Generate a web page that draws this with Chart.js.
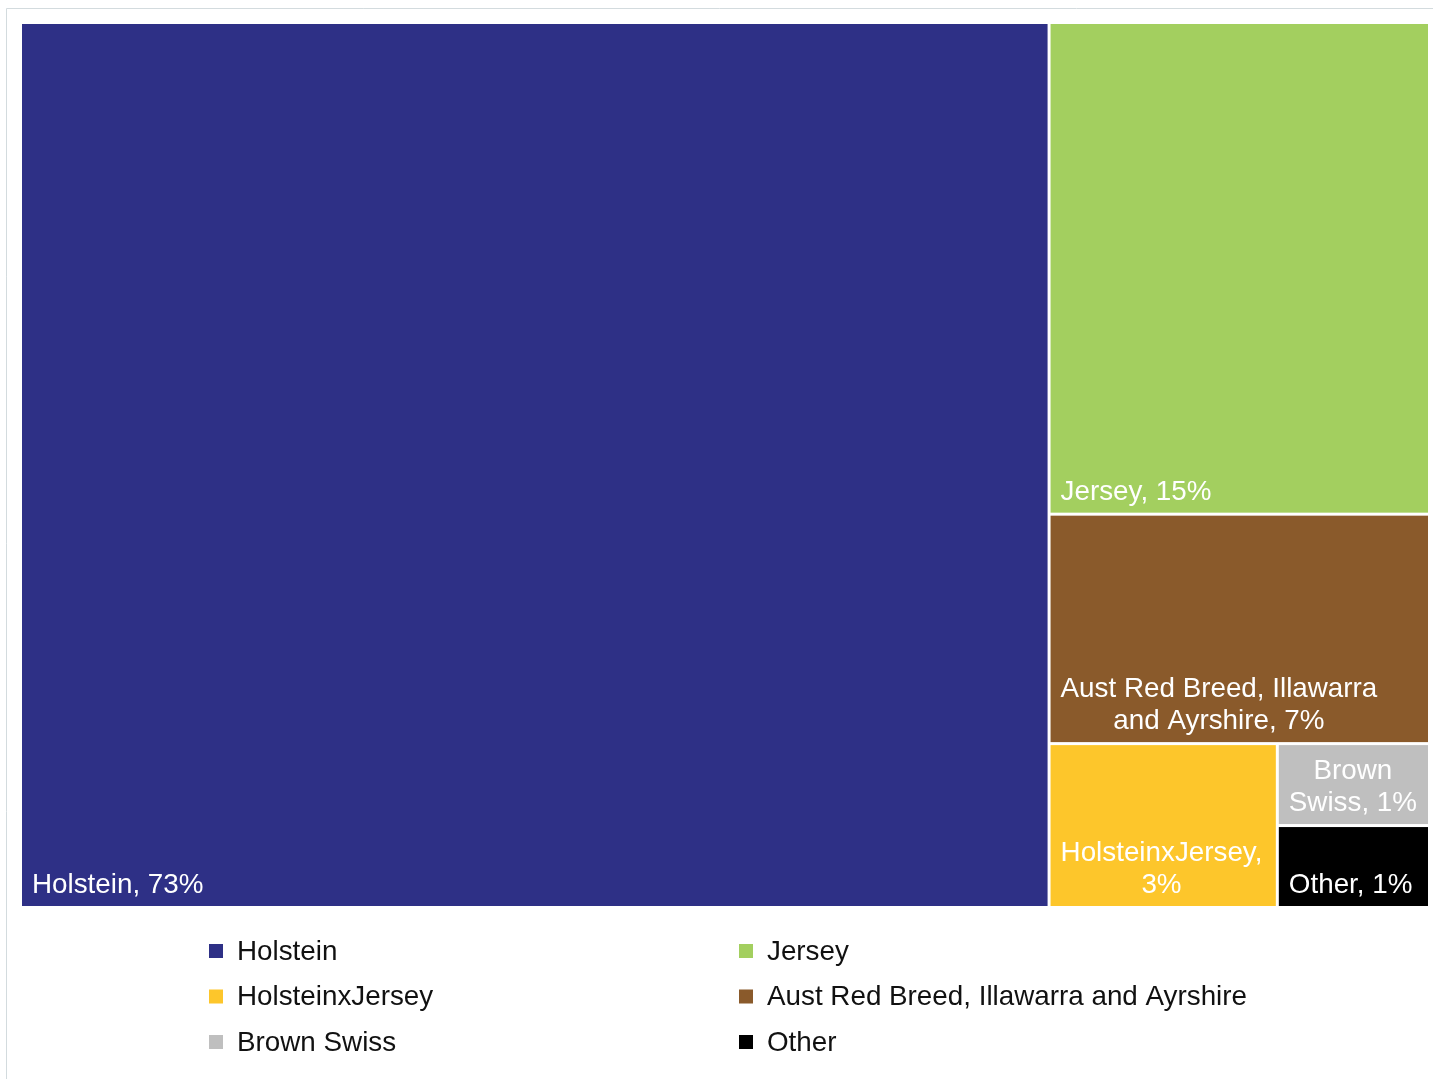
<!DOCTYPE html>
<html>
<head>
<meta charset="utf-8">
<title>Dairy herd breed composition</title>
<script src="https://cdn.jsdelivr.net/npm/chart.js@4/dist/chart.umd.min.js"></script>
<style>
  html, body { margin: 0; padding: 0; background: #ffffff; }
  canvas { display: block; }
</style>
</head>
<body>
<canvas id="breedChart" width="1433" height="1079"></canvas>
<script>
// Breed share of the national dairy herd (per cent), in legend order
const breeds = [
  'Holstein',
  'Jersey',
  'HolsteinxJersey',
  'Aust Red Breed, Illawarra and Ayrshire',
  'Brown Swiss',
  'Other'
];
const sharePct = [73, 15, 3, 7, 1, 1];

// Tile colours, one per breed
const breedColors = ['#2e3086', '#a3cf5f', '#fdc62b', '#8a5a2b', '#bfbfbf', '#000000'];

const FONT = '27.8px "Liberation Sans", Arial, Helvetica, sans-serif';

// Worst aspect ratio of a row of areas laid against a side of the given length
function worstRatio(areas, side) {
  const s = areas.reduce((a, b) => a + b, 0);
  let m = 0;
  for (const a of areas) {
    m = Math.max(m, (side * side * a) / (s * s), (s * s) / (side * side * a));
  }
  return m;
}

// Squarified treemap layout inside the rectangle (x, y, w, h)
function squarify(items, x, y, w, h) {
  const total = items.reduce((a, it) => a + it.value, 0);
  const k = (w * h) / total;
  const queue = items.map(it => Object.assign({}, it, { area: it.value * k }));
  const out = [];
  let i = 0;
  while (i < queue.length) {
    const side = Math.min(w, h);
    const row = [queue[i]];
    let j = i + 1;
    while (j < queue.length) {
      const cur = worstRatio(row.map(r => r.area), side);
      const next = worstRatio(row.concat(queue[j]).map(r => r.area), side);
      if (next > cur) break;
      row.push(queue[j]);
      j++;
    }
    const s = row.reduce((a, r) => a + r.area, 0);
    if (w >= h) {
      const cw = s / h;
      let cy = y;
      for (const r of row) {
        const rh = r.area / cw;
        out.push(Object.assign({}, r, { x: x, y: cy, w: cw, h: rh }));
        cy += rh;
      }
      x += cw; w -= cw;
    } else {
      const rh = s / w;
      let cx = x;
      for (const r of row) {
        const rw = r.area / rh;
        out.push(Object.assign({}, r, { x: cx, y: y, w: rw, h: rh }));
        cx += rw;
      }
      y += rh; h -= rh;
    }
    i = j;
  }
  return out;
}

function wrapWords(ctx, text, maxW) {
  const words = text.split(' ');
  const lines = [];
  let line = '';
  for (const word of words) {
    const trial = line ? line + ' ' + word : word;
    if (!line || ctx.measureText(trial).width <= maxW) {
      line = trial;
    } else {
      lines.push(line);
      line = word;
    }
  }
  if (line) lines.push(line);
  return lines;
}

// Draws the tiles and their labels using the chart's x/y scales as the frame
const treemapPlugin = {
  id: 'treemapTiles',
  beforeDraw(chart, args, opts) {
    const ctx = chart.ctx;
    ctx.save();
    ctx.strokeStyle = opts.frameColor;
    ctx.lineWidth = 1;
    ctx.beginPath();
    ctx.moveTo(6.5, chart.height);
    ctx.lineTo(6.5, 8.5);
    ctx.lineTo(chart.width, 8.5);
    ctx.stroke();
    ctx.restore();
  },
  afterDatasetsDraw(chart, args, opts) {
    const ctx = chart.ctx;
    const xs = chart.scales.x, ys = chart.scales.y;
    const left = xs.getPixelForValue(0), right = xs.getPixelForValue(100);
    const top = ys.getPixelForValue(100), bottom = ys.getPixelForValue(0);
    const ds = chart.data.datasets[0];
    const items = chart.data.labels.map((name, i) => ({
      name: name, value: ds.data[i], color: ds.backgroundColor[i]
    }));
    const sorted = items.slice().sort((a, b) => b.value - a.value);
    const tiles = squarify(sorted, left, top, right - left, bottom - top);
    const g = opts.gap / 2;
    ctx.save();
    ctx.font = FONT;
    for (const t of tiles) {
      ctx.fillStyle = t.color;
      ctx.fillRect(t.x + g, t.y + g, t.w - 2 * g, t.h - 2 * g);
      const label = t.name + ', ' + t.value + '%';
      const lines = wrapWords(ctx, label, t.w - 2 * g - 2 * opts.wrapPad);
      const blockW = Math.max.apply(null, lines.map(l => ctx.measureText(l).width));
      const bx = t.x + g + opts.pad;
      const lastBase = t.y + t.h - g - opts.bottomPad;
      ctx.fillStyle = opts.labelColor;
      ctx.textAlign = 'center';
      ctx.textBaseline = 'alphabetic';
      lines.forEach((l, k) => {
        ctx.fillText(l, bx + blockW / 2, lastBase - (lines.length - 1 - k) * opts.lineHeight);
      });
    }
    ctx.restore();
  },
  afterDraw(chart, args, opts) {
    // two-column legend under the tiles
    const ctx = chart.ctx;
    const ds = chart.data.datasets[0];
    const L = opts.legend;
    ctx.save();
    ctx.font = FONT;
    ctx.textAlign = 'left';
    ctx.textBaseline = 'middle';
    chart.data.labels.forEach((name, i) => {
      const col = i % 2, row = Math.floor(i / 2);
      const mx = L.colX[col];
      const cy = L.top + row * L.rowGap;
      ctx.fillStyle = ds.backgroundColor[i];
      ctx.fillRect(mx, cy - L.box / 2, L.box, L.box);
      ctx.fillStyle = L.color;
      ctx.fillText(name, mx + L.textOffset, cy + 1);
    });
    ctx.restore();
  }
};

new Chart(document.getElementById('breedChart'), {
  type: 'scatter',
  data: {
    labels: breeds,
    datasets: [{
      label: 'Share of herd (%)',
      data: sharePct,
      backgroundColor: breedColors,
      pointRadius: 0
    }]
  },
  options: {
    responsive: false,
    animation: false,
    events: [],
    layout: { padding: { left: 20.5, top: 22.5, right: 3.5, bottom: 171.5 } },
    scales: {
      x: { type: 'linear', min: 0, max: 100, display: false },
      y: { type: 'linear', min: 0, max: 100, display: false }
    },
    plugins: {
      legend: { display: false },
      tooltip: { enabled: false },
      treemapTiles: {
        gap: 3,
        pad: 10,
        wrapPad: 8,
        bottomPad: 13,
        lineHeight: 32,
        labelColor: '#ffffff',
        frameColor: '#d3dbde',
        legend: {
          colX: [209, 739],
          top: 951,
          rowGap: 45.5,
          box: 14,
          textOffset: 28,
          color: '#111111'
        }
      }
    }
  },
  plugins: [treemapPlugin]
});
</script>
</body>
</html>
